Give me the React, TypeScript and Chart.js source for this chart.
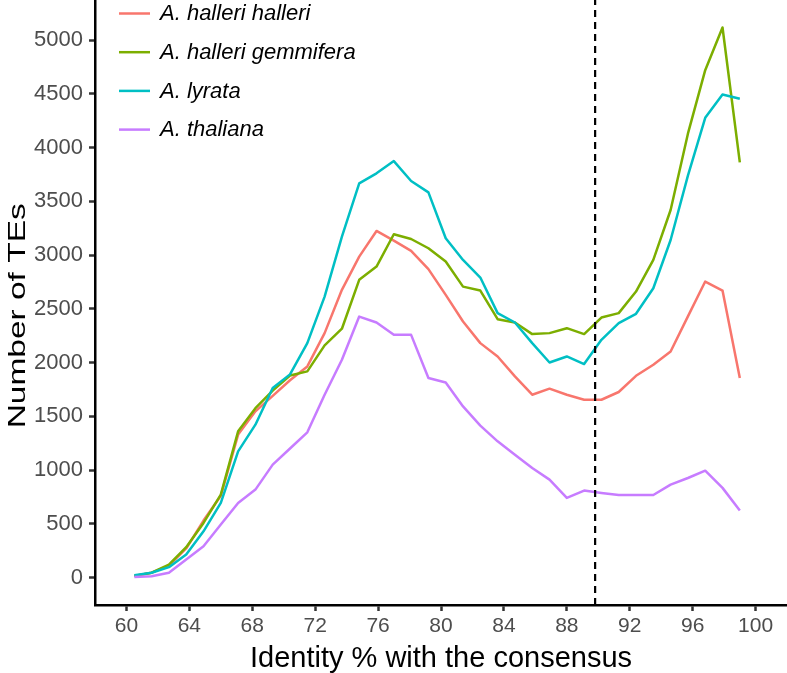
import React, { useEffect, useRef } from "react";
import { Chart, registerables } from "chart.js";

Chart.register(...registerables);

// ---- Data ----
const identity = [
  60.5, 61.6, 62.7, 63.8, 64.9, 66.0, 67.1, 68.2, 69.3, 70.4, 71.5, 72.6,
  73.7, 74.8, 75.9, 77.0, 78.1, 79.2, 80.3, 81.4, 82.5, 83.6, 84.7, 85.8,
  86.9, 88.0, 89.1, 90.2, 91.3, 92.4, 93.5, 94.6, 95.7, 96.8, 97.9, 99.0,
];

const halleriHalleri = [
  15, 45, 110, 270, 530, 760, 1330, 1546, 1690, 1835, 1964, 2274,
  2677, 2986, 3225, 3135, 3040, 2870, 2630, 2382, 2181, 2057, 1871, 1701,
  1757, 1701, 1654, 1654, 1726, 1877, 1980, 2103, 2430, 2754, 2670, 1856,
];

const halleriGemmifera = [
  15, 45, 120, 282, 508, 771, 1360, 1575, 1740, 1880, 1918, 2160,
  2315, 2770, 2893, 3194, 3150, 3064, 2940, 2707, 2670, 2404, 2373, 2265,
  2274, 2320, 2265, 2419, 2460, 2661, 2955, 3420, 4130, 4721, 5118, 3863,
];

const lyrata = [
  20, 44, 96, 214, 430, 694, 1174, 1422, 1763, 1890, 2181, 2614,
  3172, 3668, 3761, 3875, 3690, 3584, 3157, 2955, 2791, 2460, 2373, 2181,
  2001, 2057, 1986, 2212, 2367, 2454, 2692, 3141, 3740, 4278, 4495, 4455,
];

const thaliana = [
  5, 12, 44, 167, 291, 493, 694, 818, 1050, 1200, 1351, 1700,
  2026, 2428, 2373, 2258, 2258, 1856, 1815, 1592, 1413, 1267, 1143, 1019,
  911, 741, 809, 787, 768, 768, 768, 864, 926, 994, 834, 623,
];

const seriesNames = [
  "A. halleri halleri",
  "A. halleri gemmifera",
  "A. lyrata",
  "A. thaliana",
];
const seriesColors = ["#F8766D", "#7CAE00", "#00BFC4", "#C77CFF"];

const xTicks = [60, 64, 68, 72, 76, 80, 84, 88, 92, 96, 100];
const yTicks = [0, 500, 1000, 1500, 2000, 2500, 3000, 3500, 4000, 4500, 5000];
const xRange = [58, 102];
const yRange = [-256, 5374];
const thresholdIdentity = 89.8;

const xTitle = "Identity % with the consensus";
const yTitle = "Number of TEs";

const FONT = '"Liberation Sans", Arial, Helvetica, sans-serif';

const overlayPlugin = {
  id: "overlayTitlesLegend",
  afterDraw(chart: any) {
    const ctx = chart.ctx as CanvasRenderingContext2D;
    const area = chart.chartArea;
    ctx.save();

    // Legend inside the panel (top-left)
    ctx.font = `italic 22px ${FONT}`;
    ctx.textAlign = "left";
    ctx.textBaseline = "middle";
    seriesNames.forEach((name, i) => {
      const y = 13.5 + i * 38.7;
      ctx.strokeStyle = seriesColors[i];
      ctx.lineWidth = 2.5;
      ctx.beginPath();
      ctx.moveTo(119, y);
      ctx.lineTo(150, y);
      ctx.stroke();
      ctx.fillStyle = "#000000";
      ctx.fillText(name, 160, y + 0.5);
    });

    // X axis title
    ctx.font = `29px ${FONT}`;
    ctx.textAlign = "center";
    ctx.textBaseline = "alphabetic";
    ctx.fillStyle = "#000000";
    ctx.fillText(xTitle, (area.left + area.right) / 2, 667);

    // Y axis title (rotated)
    ctx.translate(25, 315.8);
    ctx.rotate(-Math.PI / 2);
    ctx.font = `24.5px ${FONT}`;
    const w = ctx.measureText(yTitle).width;
    ctx.scale(225 / w, 1);
    ctx.textAlign = "center";
    ctx.textBaseline = "alphabetic";
    ctx.fillText(yTitle, 0, 0);

    ctx.restore();
  },
};

export default function App() {
  const canvasRef = useRef<HTMLCanvasElement | null>(null);

  useEffect(() => {
    if (!canvasRef.current) return;
    const seriesValues = [halleriHalleri, halleriGemmifera, lyrata, thaliana];

    const datasets: any[] = seriesValues.map((vals, i) => ({
      label: seriesNames[i],
      data: identity.map((x, j) => ({ x, y: vals[j] })),
      borderColor: seriesColors[i],
      backgroundColor: seriesColors[i],
      borderWidth: 2.5,
      pointRadius: 0,
      tension: 0,
      fill: false,
      borderJoinStyle: "round",
      order: 5 - i,
    }));
    datasets.push({
      label: "threshold",
      data: [
        { x: thresholdIdentity, y: yRange[0] },
        { x: thresholdIdentity, y: yRange[1] },
      ],
      borderColor: "#000000",
      borderWidth: 2.2,
      borderDash: [7, 5],
      pointRadius: 0,
      fill: false,
      order: 0,
    });

    const chart = new Chart(canvasRef.current, {
      type: "line",
      data: { datasets },
      options: {
        responsive: false,
        devicePixelRatio: 1,
        animation: false,
        events: [],
        layout: { padding: { left: 0, right: 0, top: 0, bottom: 0 } },
        plugins: {
          legend: { display: false },
          tooltip: { enabled: false },
        },
        scales: {
          x: {
            type: "linear",
            min: xRange[0],
            max: xRange[1],
            afterBuildTicks: (s: any) => {
              s.ticks = xTicks.map((v) => ({ value: v }));
            },
            afterFit: (s: any) => {
              s.height = 68;
              s.paddingLeft = 0;
              s.paddingRight = 0;
            },
            ticks: {
              color: "#4d4d4d",
              font: { size: 21, family: FONT },
              padding: 3,
              maxRotation: 0,
              autoSkip: false,
              callback: (v: any) => String(v),
            },
            grid: {
              display: true,
              drawOnChartArea: false,
              drawTicks: true,
              tickLength: 6,
              tickWidth: 2.5,
              tickColor: "#333333",
              color: "#333333",
            },
            border: { display: true, color: "#000000", width: 2.5 },
          },
          y: {
            type: "linear",
            min: yRange[0],
            max: yRange[1],
            afterBuildTicks: (s: any) => {
              s.ticks = yTicks.map((v) => ({ value: v }));
            },
            afterFit: (s: any) => {
              s.width = 95;
              s.paddingTop = 0;
              s.paddingBottom = 0;
            },
            ticks: {
              color: "#4d4d4d",
              font: { size: 22, family: FONT },
              padding: 6,
              autoSkip: false,
              callback: (v: any) => String(v),
            },
            grid: {
              display: true,
              drawOnChartArea: false,
              drawTicks: true,
              tickLength: 6,
              tickWidth: 2.5,
              tickColor: "#333333",
              color: "#333333",
            },
            border: { display: true, color: "#000000", width: 2.5 },
          },
        },
      },
      plugins: [overlayPlugin],
    });

    return () => chart.destroy();
  }, []);

  return (
    <div
      style={{
        position: "absolute",
        left: 0,
        top: 0,
        width: 787,
        height: 673,
        background: "#ffffff",
      }}
    >
      <canvas
        ref={canvasRef}
        width={787}
        height={673}
        style={{ display: "block", width: 787, height: 673 }}
      />
    </div>
  );
}
